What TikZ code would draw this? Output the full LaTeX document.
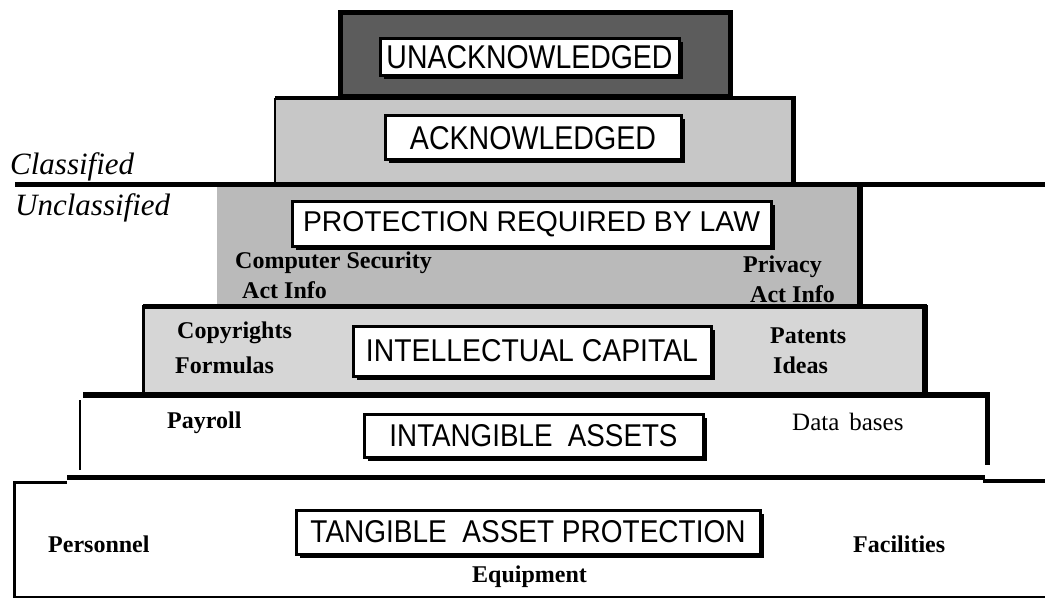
\documentclass[tikz,border=0pt]{standalone}
\usepackage{graphicx}
\usepackage{fontspec}
\setmainfont{Liberation Serif}
\setsansfont{Liberation Sans}
\usetikzlibrary{shadows}
\newcommand{\labtext}[3]{\resizebox{#1pt}{#2pt}{\sffamily #3}}
\tikzset{
  lab/.style={draw=black, line width=3pt, fill=white, inner sep=0pt,
    drop shadow={shadow xshift=3.5pt, shadow yshift=-3.5pt, fill=black, opacity=1}},
  small/.style={font=\fontsize{24}{24}\selectfont\bfseries, anchor=base west, inner sep=0pt},
  plain/.style={font=\fontsize{25}{25}\selectfont, anchor=base west, inner sep=0pt},
  cls/.style={font=\fontsize{31}{31}\selectfont\itshape, anchor=base west, inner sep=0pt},
}
\begin{document}
\begin{tikzpicture}[x=1pt,y=-1pt]
\useasboundingbox (0,0) rectangle (1045,599);
% layer fills
\fill[white] (13,479) rectangle (1045,597);
\fill[white] (80,395) rectangle (987,477);
\fill[black!16] (143,305) rectangle (925,393);
\fill[black!27] (217,186) rectangle (860,305);
\fill[black!22] (275,98) rectangle (793,185);
\fill[black!64] (340,13) rectangle (730,97);
% layer outlines
\draw[line width=4pt] (275,98) -- (793,98);
\draw[line width=1.5pt] (275,98) -- (275,183);
\draw[line width=5pt] (793,96) -- (793,185);
\draw[line width=5pt] (340,13) rectangle (730,97);
\draw[line width=5pt] (15,185) -- (1045,185);
\draw[line width=6pt] (860,186) -- (860,305);
\draw[line width=5pt] (143,306) -- (927,306);
\draw[line width=3pt] (143,305) -- (143,393);
\draw[line width=6pt] (925,305) -- (925,393);
\draw[line width=6pt] (83,395) -- (990,395);
\draw[line width=1.5pt] (80,400) -- (80,470);
\draw[line width=5pt] (987,398) -- (987,465);
\draw[line width=5pt] (67,477) -- (985,477);
\draw[line width=3.5pt] (983,481) -- (1045,481);
\draw[line width=3pt] (13,482) -- (67,482);
\draw[line width=3pt] (14,481) -- (14,597);
\draw[line width=2pt] (13,597) -- (1045,597);
% label frames
\node[lab, minimum width=299pt, minimum height=37pt] (unack) at (529.5,57) {\labtext{286}{23}{UNACKNOWLEDGED}};
\node[lab, minimum width=296pt, minimum height=44pt] (ack) at (533,138) {\labtext{246}{23}{ACKNOWLEDGED}};
\node[lab, minimum width=479pt, minimum height=44pt] (law) at (531.5,224) {\labtext{457}{20}{PROTECTION REQUIRED BY LAW}};
\node[lab, minimum width=358pt, minimum height=50pt] (ic) at (532,351) {\labtext{332}{22}{INTELLECTUAL CAPITAL}};
\node[lab, minimum width=339pt, minimum height=43pt] (ia) at (533.5,436) {\labtext{288}{22}{INTANGIBLE\ \ ASSETS}};
\node[lab, minimum width=464pt, minimum height=44pt] (ta) at (528,532) {\labtext{435}{22}{TANGIBLE\ \ ASSET PROTECTION}};
% classification labels
\node[cls] (classified) at (10,175) {Classified};
\node[cls] (unclassified) at (15,215) {Unclassified};
% side labels
\node[small] (compsec) at (235,268) {Computer Security};
\node[small] (actl) at (242,298) {Act Info};
\node[small] (privacy) at (743,272) {Privacy};
\node[small] (actr) at (750,302) {Act Info};
\node[small] (copy) at (177,338) {Copyrights};
\node[small] (form) at (175,373) {Formulas};
\node[small] (pat) at (770,343) {Patents};
\node[small] (ideas) at (773,373) {Ideas};
\node[small] (pay) at (167,428) {Payroll};
\node[plain] (data) at (792,430) {Data\hspace{0.4em}bases};
\node[small] (pers) at (48,552) {Personnel};
\node[small] (fac) at (853,552) {Facilities};
\node[small] (equip) at (472,582) {Equipment};
\end{tikzpicture}
\end{document}
